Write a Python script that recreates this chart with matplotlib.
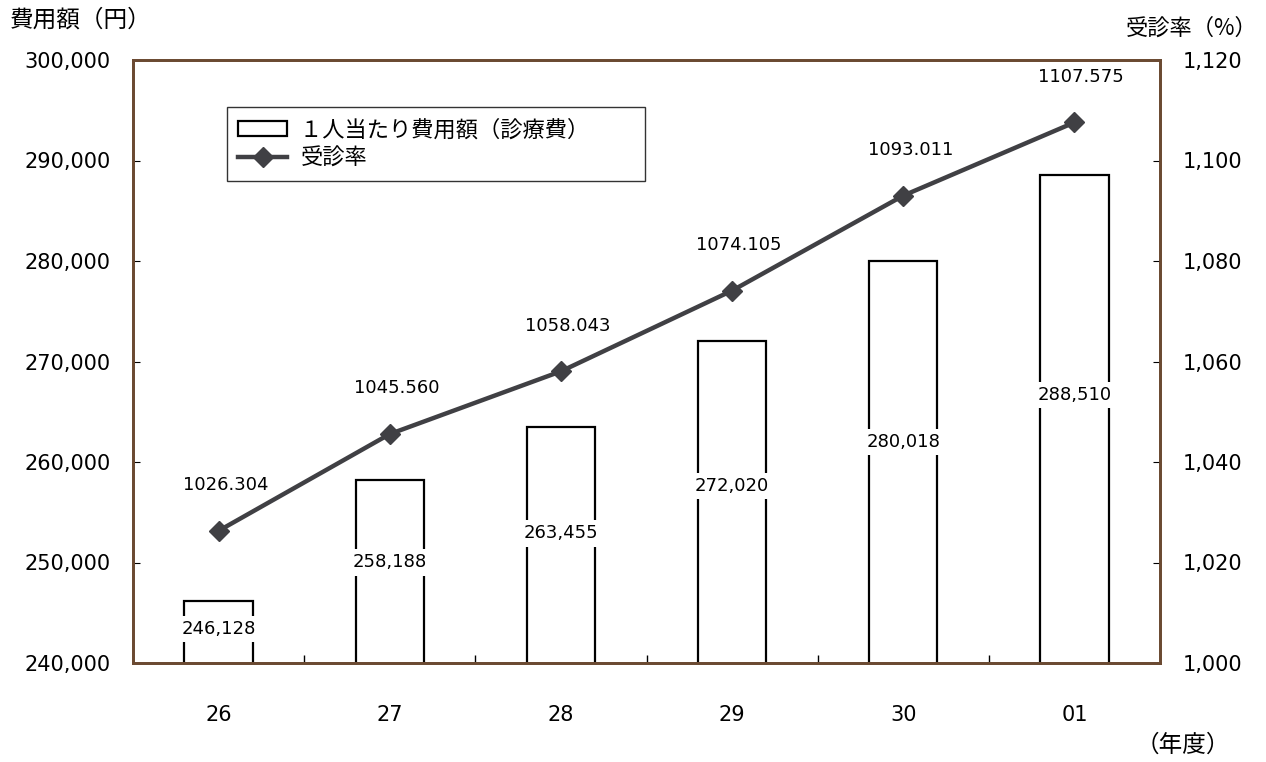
import matplotlib.pyplot as plt
from matplotlib.patches import Patch
from matplotlib.lines import Line2D
from matplotlib.ticker import FuncFormatter, MultipleLocator, FixedLocator
import numpy as np

plt.rcParams['font.family'] = ['DejaVu Sans', 'Noto Sans CJK JP']
JP = ['Noto Sans CJK JP', 'DejaVu Sans']

years = ['26', '27', '28', '29', '30', '01']
cost = [246128, 258188, 263455, 272020, 280018, 288510]
rate = [1026.304, 1045.560, 1058.043, 1074.105, 1093.011, 1107.575]

spine_col = '#6b4a32'
line_col = '#404044'

fig = plt.figure(figsize=(12.66, 7.62), dpi=100)
ax = fig.add_axes([133 / 1266, 1 - 663 / 762, 1027 / 1266, 603 / 762])
ax2 = ax.twinx()

x = np.arange(len(years))
ax.bar(x, cost, width=0.40, facecolor='white', edgecolor='black',
       linewidth=1.6, zorder=2)
ax.set_ylim(240000, 300000)
ax.set_xlim(-0.5, len(years) - 0.5)
ax.yaxis.set_major_locator(MultipleLocator(10000))
ax.yaxis.set_major_formatter(FuncFormatter(lambda v, p: f'{int(v):,}'))

lo = ax.get_ylim()[0]
for xi, v in zip(x, cost):
    ax.text(xi, lo + 0.55 * (v - lo), f'{v:,}', ha='center', va='center', fontsize=13,
            bbox=dict(facecolor='white', edgecolor='none', pad=3), zorder=3)

ax2.plot(x, rate, color=line_col, linewidth=3.2, marker='D', markersize=10,
         markerfacecolor=line_col, markeredgecolor=line_col, zorder=4)
ax2.set_ylim(1000, 1120)
ax2.yaxis.set_major_locator(MultipleLocator(20))
ax2.yaxis.set_major_formatter(FuncFormatter(lambda v, p: f'{int(v):,}'))
for xi, v in zip(x, rate):
    ax2.annotate(f'{v:.3f}', (xi, v), xytext=(5, 33), textcoords='offset points',
                 ha='center', va='center', fontsize=13)

# x ticks: labels at centres, tick marks at boundaries
ax.set_xticks(x)
ax.set_xticklabels(years, fontsize=15)
ax.tick_params(axis='x', length=0, pad=30)
ax.xaxis.set_minor_locator(FixedLocator(np.arange(0.5, len(years) - 0.5)))
ax.tick_params(axis='x', which='minor', direction='in', length=6, width=1)

ax.tick_params(axis='y', direction='in', length=5, labelsize=15, pad=16)
ax2.tick_params(axis='y', direction='in', length=5, labelsize=15, pad=16)

for a in (ax, ax2):
    for s in a.spines.values():
        s.set_color(spine_col)
        s.set_linewidth(2)

fig.text(10 / 1266, 1 - 20 / 762, '費用額（円）', fontsize=17, ha='left', va='center', family=JP)
fig.text(1258 / 1266, 1 - 28 / 762, '受診率（%）', fontsize=16, ha='right', va='center', family=JP)
fig.text(1230 / 1266, 1 - 745 / 762, '（年度）', fontsize=17, ha='right', va='center', family=JP)

handles = [Patch(facecolor='white', edgecolor='black', linewidth=1.6),
           Line2D([0], [0], color=line_col, linewidth=3.2, marker='D', markersize=10)]
leg = ax.legend(handles, ['１人当たり費用額（診療費）　　', '受診率'], loc='upper left',
                bbox_to_anchor=(94 / 1027, 1 - 47 / 603), borderaxespad=0, frameon=True,
                fancybox=False, edgecolor='black', handlelength=2.2, handletextpad=0.6,
                labelspacing=0.25, borderpad=0.5, prop={'family': JP, 'size': 16})
leg.get_frame().set_linewidth(1)
leg.set_zorder(10)

fig.savefig('out.png', dpi=100, facecolor='white')
